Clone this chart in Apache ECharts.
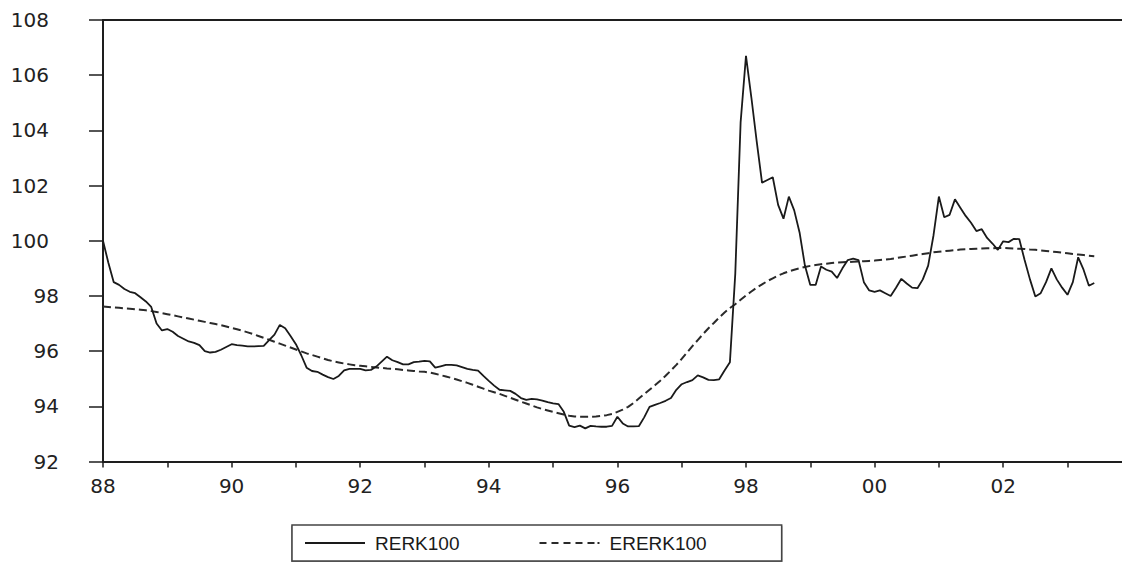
<!DOCTYPE html>
<html>
<head>
<meta charset="utf-8">
<script src="https://cdn.jsdelivr.net/npm/echarts@6/dist/echarts.min.js"></script>
<style>
  html, body { margin: 0; padding: 0; background: #fff; }
  #chart { width: 1122px; height: 562px; }
</style>
</head>
<body>
<div id="chart"></div>
<script>
// Monthly observations, starting January 1988
const startYear = 1988;
const seriesNames = ['RERK100', 'ERERK100'];

// RERK100 (solid line), Jan 1988 .. Jun 2003
const rerk100 = [
  100.0, 99.2, 98.5, 98.4, 98.25, 98.15, 98.1, 97.95, 97.8, 97.6, 97.0, 96.75,
  96.8, 96.7, 96.55, 96.45, 96.35, 96.3, 96.22, 96.0, 95.95, 95.97, 96.05, 96.15,
  96.25, 96.22, 96.2, 96.17, 96.17, 96.18, 96.19, 96.4, 96.6, 96.95, 96.83, 96.55,
  96.25, 95.85, 95.4, 95.28, 95.25, 95.15, 95.06, 94.99, 95.1, 95.3, 95.36, 95.36,
  95.36, 95.3, 95.32, 95.44, 95.62, 95.8, 95.67, 95.6, 95.52, 95.52, 95.6, 95.62,
  95.65, 95.63, 95.4, 95.45, 95.5, 95.5, 95.48, 95.42, 95.36, 95.32, 95.29, 95.1,
  94.92, 94.75, 94.6, 94.58, 94.56, 94.45, 94.3, 94.23, 94.27, 94.25, 94.21, 94.15,
  94.11, 94.08, 93.8, 93.3, 93.25, 93.3, 93.2, 93.29, 93.27, 93.26, 93.26, 93.29,
  93.62, 93.38, 93.27, 93.27, 93.28, 93.6, 93.98, 94.05, 94.12, 94.2, 94.3, 94.6,
  94.8, 94.88, 94.95, 95.12, 95.05, 94.96, 94.95, 94.98, 95.3, 95.6, 98.8, 104.3,
  106.7, 105.2, 103.6, 102.1, 102.2, 102.3, 101.3, 100.8, 101.6, 101.1, 100.3, 99.1,
  98.4, 98.4, 99.07, 98.95, 98.88, 98.65, 99.0, 99.3, 99.35, 99.3, 98.5, 98.2,
  98.15, 98.2, 98.1, 98.0, 98.3, 98.62, 98.45, 98.3, 98.28, 98.6, 99.1, 100.2,
  101.6, 100.85, 100.94, 101.5, 101.2, 100.9, 100.65, 100.35, 100.42, 100.1, 99.9, 99.67,
  99.98, 99.95, 100.07, 100.06, 99.3, 98.6, 97.98, 98.1, 98.5, 99.0, 98.6, 98.3,
  98.04, 98.5, 99.4, 98.95, 98.37, 98.47
];

// ERERK100 (dashed line), Jan 1988 .. Jun 2003
const ererk100 = [
  97.62, 97.60, 97.58, 97.57, 97.55, 97.54, 97.52, 97.50, 97.48, 97.45, 97.42, 97.38,
  97.34, 97.30, 97.26, 97.22, 97.18, 97.14, 97.10, 97.06, 97.02, 96.98, 96.94, 96.89,
  96.84, 96.79, 96.74, 96.68, 96.62, 96.55, 96.48, 96.41, 96.34, 96.27, 96.20, 96.13,
  96.06, 95.99, 95.92, 95.86, 95.80, 95.74, 95.68, 95.63, 95.59, 95.55, 95.52, 95.49,
  95.47, 95.45, 95.43, 95.41, 95.39, 95.37, 95.36, 95.34, 95.32, 95.30, 95.28, 95.26,
  95.25, 95.22, 95.18, 95.13, 95.08, 95.03, 94.97, 94.91, 94.85, 94.78, 94.71, 94.64,
  94.57, 94.51, 94.45, 94.38, 94.31, 94.24, 94.17, 94.10, 94.03, 93.96, 93.90, 93.85,
  93.80, 93.75, 93.70, 93.66, 93.63, 93.62, 93.62, 93.62, 93.63, 93.65, 93.68, 93.72,
  93.80, 93.88, 93.98, 94.12, 94.28, 94.44, 94.60, 94.76, 94.93, 95.11, 95.30, 95.50,
  95.72, 95.95, 96.18, 96.40, 96.62, 96.83, 97.02, 97.22, 97.40, 97.56, 97.70, 97.86,
  98.02, 98.16, 98.30, 98.42, 98.54, 98.64, 98.74, 98.82, 98.89, 98.95, 99.00, 99.05,
  99.09, 99.12, 99.15, 99.17, 99.19, 99.21, 99.22, 99.23, 99.24, 99.25, 99.26, 99.27,
  99.28, 99.30, 99.32, 99.34, 99.37, 99.40, 99.43, 99.46, 99.49, 99.52, 99.55, 99.58,
  99.60, 99.62, 99.64, 99.66, 99.68, 99.69, 99.70, 99.71, 99.72, 99.73, 99.73, 99.74,
  99.74, 99.73, 99.72, 99.71, 99.70, 99.68, 99.67, 99.65, 99.63, 99.61, 99.59, 99.57,
  99.55, 99.52, 99.50, 99.48, 99.46, 99.44
];

// Axis ticks
const yTicks = [92, 94, 96, 98, 100, 102, 104, 106, 108];
const xTickLabels = ['88', '90', '92', '94', '96', '98', '00', '02'];

const toPairs = arr => arr.map((v, i) => [startYear + i / 12, v]);

const axisColor = '#1e1e1e';
const labelFont = 'DejaVu Sans';
const xMin = 1988, xMax = 2003.848;

const chart = echarts.init(document.getElementById('chart'), null, { renderer: 'svg' });
chart.setOption({
  animation: false,
  backgroundColor: '#ffffff',
  grid: { left: 103, top: 20, right: 0, bottom: 100.5, containLabel: false, outerBoundsMode: 'none' },
  legend: {
    left: 292, top: 525,
    orient: 'horizontal',
    padding: [7, 75, 7, 13],
    itemGap: 80,
    itemWidth: 60,
    itemHeight: 1.8,
    symbolKeepAspect: false,
    borderColor: '#444',
    borderWidth: 1.5,
    backgroundColor: '#fff',
    shadowColor: 'rgba(0,0,0,0.6)',
    shadowOffsetY: 1.5,
    shadowBlur: 0,
    itemStyle: { borderWidth: 0 },
    textStyle: {
      fontFamily: '"Liberation Sans", Arial, sans-serif',
      fontSize: 19,
      lineHeight: 22,
      color: '#1a1a1a',
      padding: [0, 0, 0, 5]
    },
    data: [
      { name: seriesNames[0], icon: 'path://M0,0H60V2H0Z' },
      { name: seriesNames[1], icon: 'path://M0,0H7V2H0Z M12,0H19V2H12Z M24,0H31V2H24Z M36,0H43V2H36Z M48,0H55V2H48Z M58,0H60V2H58Z' }
    ]
  },
  xAxis: [
    {
      type: 'value',
      min: xMin, max: xMax, interval: 1,
      axisLine: { show: true, onZero: false, lineStyle: { color: axisColor, width: 2 } },
      axisTick: { show: true, length: 6, lineStyle: { color: axisColor, width: 1.5 } },
      splitLine: { show: false },
      axisLabel: {
        show: true,
        margin: 14,
        fontFamily: labelFont,
        fontSize: 20,
        color: '#222',
        showMaxLabel: false,
        formatter: v => {
          const r = Math.round(v);
          if (Math.abs(v - r) > 1e-6) return '';
          const s = String(r).slice(2);
          return xTickLabels.indexOf(s) >= 0 ? s : '';
        }
      }
    },
    {
      type: 'value', position: 'top',
      min: xMin, max: xMax,
      axisLine: { show: true, onZero: false, lineStyle: { color: axisColor, width: 2 } },
      axisTick: { show: false }, axisLabel: { show: false }, splitLine: { show: false }
    }
  ],
  yAxis: {
    type: 'value',
    min: yTicks[0], max: yTicks[yTicks.length - 1], interval: 2,
    axisLine: { show: true, onZero: false, lineStyle: { color: axisColor, width: 2 } },
    axisTick: { show: true, length: 14, lineStyle: { color: axisColor, width: 1.5 } },
    splitLine: { show: false },
    axisLabel: {
      margin: 44,
      fontFamily: labelFont,
      fontSize: 20,
      color: '#222',
      formatter: v => v >= 100 ? '{w|' + v + '}' : '{n|' + v + '}',
      rich: {
        w: { fontFamily: labelFont, fontSize: 20, color: '#222', padding: [0, 10, 0, 0] },
        n: { fontFamily: labelFont, fontSize: 20, color: '#222' }
      }
    }
  },
  series: [
    {
      name: seriesNames[0],
      type: 'line',
      data: toPairs(rerk100),
      showSymbol: false,
      symbol: 'none',
      color: '#1a1a1a',
      lineStyle: { color: '#1a1a1a', width: 1.8, type: 'solid' },
      z: 3
    },
    {
      name: seriesNames[1],
      type: 'line',
      data: toPairs(ererk100),
      showSymbol: false,
      symbol: 'none',
      color: '#2a2a2a',
      lineStyle: { color: '#2a2a2a', width: 2, type: [8, 4] },
      z: 2
    }
  ]
});
</script>
</body>
</html>
